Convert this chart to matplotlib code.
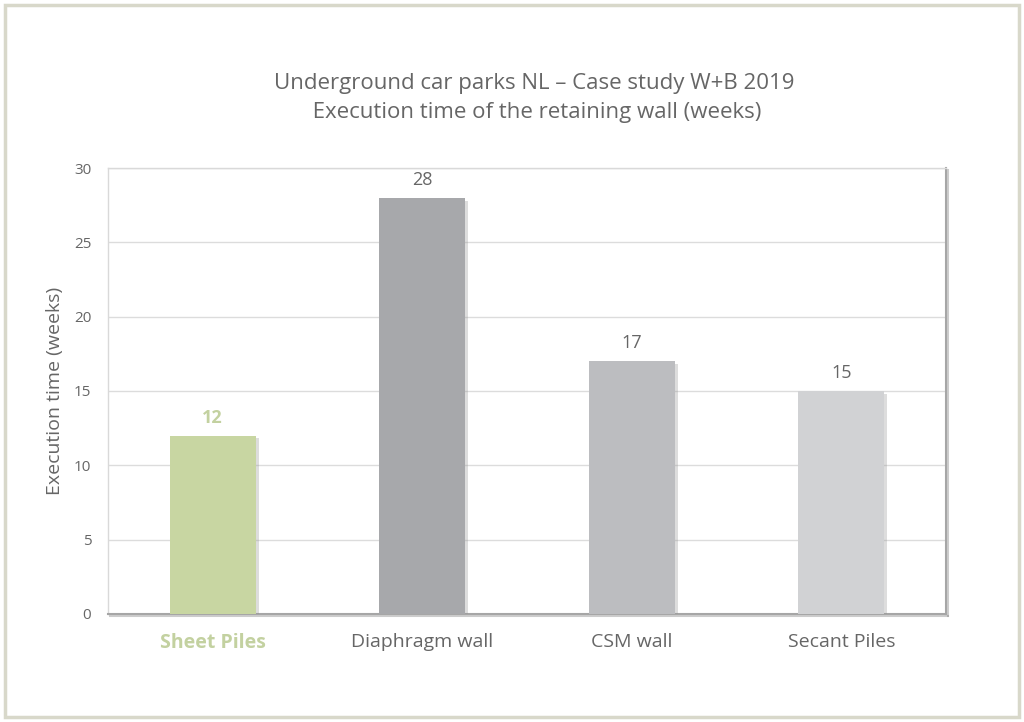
import matplotlib.pyplot as plt
import matplotlib.patheffects as pe
from matplotlib.patches import Rectangle
import numpy as np

plt.rcParams['font.family'] = ['Open Sans', 'DejaVu Sans']

# --- DATA ---
categories = ['Sheet Piles', 'Diaphragm wall', 'CSM wall', 'Secant Piles']
weeks = [12, 28, 17, 15]
bar_colors = ['#c8d6a2', '#a7a8ab', '#bcbdc0', '#d1d2d4']
yticks = [0, 5, 10, 15, 20, 25, 30]

text_grey = '#666666'
green_text = '#c3d1a0'

fig = plt.figure(figsize=(10.24, 7.22), dpi=100)
fig.patch.set_facecolor('white')

# outer beige frame
fig.add_artist(Rectangle((0.005, 0.007), 0.99, 0.986, transform=fig.transFigure,
                         fill=False, edgecolor='#d8d8ca', linewidth=2.5))

ax = fig.add_axes([0.1055, 0.1496, 0.8184, 0.6177])
x = np.arange(len(categories))
shadow = [pe.SimplePatchShadow(offset=(2, -2), shadow_rgbFace='#909090', alpha=0.3), pe.Normal()]
bars = ax.bar(x, weeks, width=0.41, color=bar_colors, zorder=3)
for b in bars:
    b.set_path_effects(shadow)

ax.set_xlim(-0.5, len(categories) - 0.5)
ax.set_ylim(0, 30)
ax.set_yticks(yticks)
ax.yaxis.grid(True, color='#dcdcdc', linewidth=1, zorder=0)
ax.set_axisbelow(True)

for side in ['left', 'top']:
    ax.spines[side].set_color('#d9d9d9')
    ax.spines[side].set_linewidth(1)
for side in ['right', 'bottom']:
    ax.spines[side].set_color('#a6a6a6')
    ax.spines[side].set_linewidth(1.5)
    ax.spines[side].set_path_effects([pe.SimpleLineShadow(offset=(1.5, -1.5), shadow_color='#808080', alpha=0.4), pe.Normal()])

ax.tick_params(axis='both', length=0, colors=text_grey, labelsize=11)
ax.tick_params(axis='y', pad=12)
ax.tick_params(axis='x', pad=14, labelsize=14)
ax.set_xticks(x)
ax.set_xticklabels(categories)
ax.get_xticklabels()[0].set_color(green_text)
ax.get_xticklabels()[0].set_fontweight('bold')

ax.set_ylabel('Execution time (weeks)', fontsize=14, color=text_grey, labelpad=7)

for i, v in enumerate(weeks):
    c = green_text if i == 0 else text_grey
    w = 'bold' if i == 0 else 'normal'
    ax.text(x[i], v + 0.6, str(v), ha='center', va='bottom', fontsize=13, color=c, fontweight=w)

fig.text(0.522, 0.864, 'Underground car parks NL \u2013 Case study W+B 2019\n Execution time of the retaining wall (weeks)',
         ha='center', va='center', fontsize=16, color=text_grey, linespacing=1.5)

fig.savefig('out.png', dpi=100)
